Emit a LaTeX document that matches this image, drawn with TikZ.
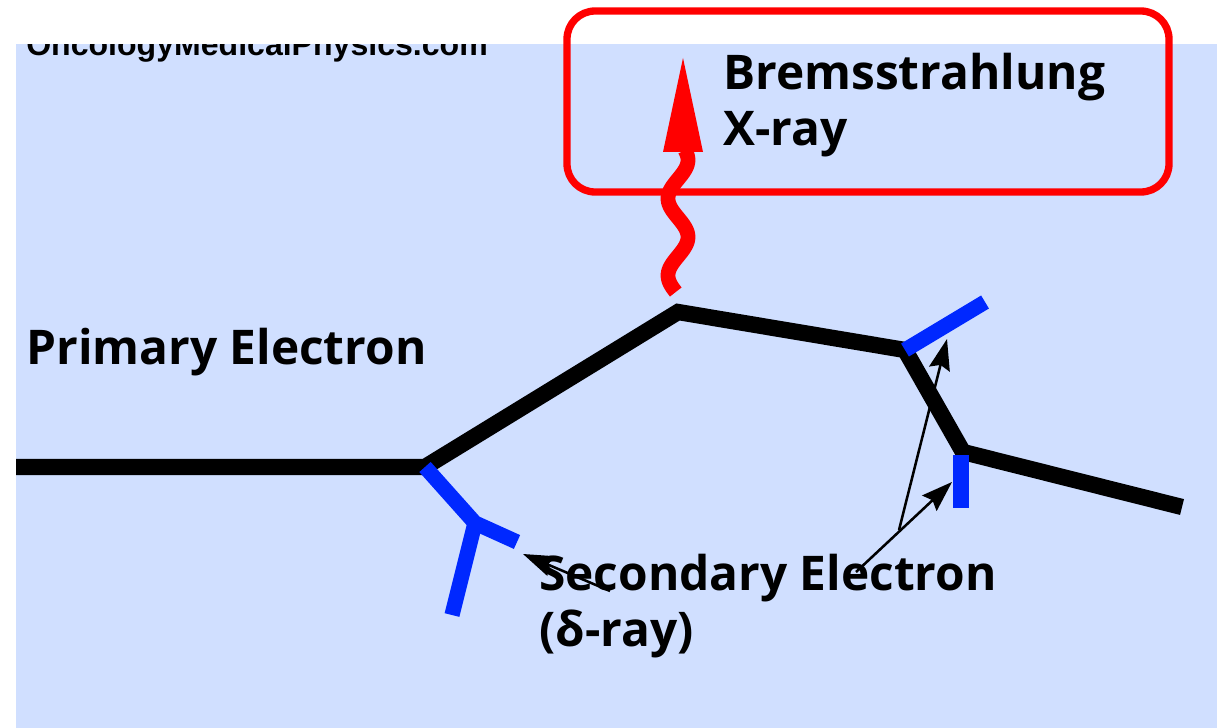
\documentclass[tikz,border=0pt]{standalone}
\usepackage{fontspec}
\setmainfont{Open Sans}
\newfontfamily\sitefont{Liberation Sans}
\usetikzlibrary{arrows.meta}
\definecolor{bgblue}{RGB}{208,223,255}
\definecolor{dblue}{RGB}{0,40,255}
\definecolor{xred}{RGB}{255,0,0}

\begin{document}
\begin{tikzpicture}[x=0.025cm, y=-0.025cm,
	track/.style={line width=11.6pt, black, line join=miter},
	delta/.style={line width=10.8pt, dblue},
	pointer/.style={line width=1.8pt, black, -{Stealth[length=22pt, width=15pt, inset=3pt]}},
	lbl/.style={anchor=base west, inner sep=0pt, font=\fontsize{34}{40}\selectfont\bfseries}]
	\useasboundingbox (0,0) rectangle (1217,728);
	\fill[bgblue] (16,44) rectangle (1217,728);
	
	% site name, top half hidden by the white margin
	\node[anchor=base west, inner sep=0pt, font=\sitefont\fontsize{22.8}{26}\selectfont\bfseries] (site) at (26,56) {OncologyMedicalPhysics.com};
	\fill[white] (0,0) rectangle (1217,44);
	\fill[white] (0,0) rectangle (16,728);
	
	% Bremsstrahlung box
	\draw[xred, line width=5.2pt, rounded corners=20pt] (567,11) rectangle (1169,192);
	\draw[xred, line width=10.5pt, domain=292:150, samples=80] plot ({678+10*cos((\x-160)/77*360)}, \x);
	\fill[xred] (663,152) -- (683,58) -- (703,152) -- cycle;
	
	% primary track
	\coordinate (p0) at (16,467);
	\coordinate (p1) at (425,467);
	\coordinate (p2) at (678,312);
	\coordinate (p3) at (905,350);
	\coordinate (p4) at (963,452);
	\coordinate (p5) at (1182,507);
	\draw[track] (p0) -- (p1) -- (p2) -- (p3) -- (p4) -- (p5);
	
	% delta rays
	\coordinate (fork) at (475,523);
	\draw[delta] (p1) -- (fork) -- (517,542);
	\draw[delta] (fork) -- (452,615);
	\draw[delta] (p3) -- (985,302);
	\draw[delta] (961,455) coordinate (d3) -- (961,508);
	
	\node[lbl] (prim) at (26,365) {Primary Electron};
	\node[lbl] (brems) at (723,90) {Bremsstrahlung};
	\node[lbl] (xray) at (723,146) {X-ray};
	\node[lbl] (sec) at (539,590) {Secondary Electron};
	\node[lbl] (dray) at (539,646) {(δ-ray)};
	
	% pointers to the delta rays
	\coordinate (t1) at (610,591);
	\coordinate (h1) at (523,554);
	\coordinate (t2) at (856,572);
	\coordinate (j2) at (899,530);
	\coordinate (h2) at (952,482);
	\coordinate (h3) at (947,339);
	\draw[pointer] (t1) -- (h1);
	\draw[pointer] (t2) -- (h2);
	\draw[pointer] (j2) -- (h3);
\end{tikzpicture}
\end{document}
